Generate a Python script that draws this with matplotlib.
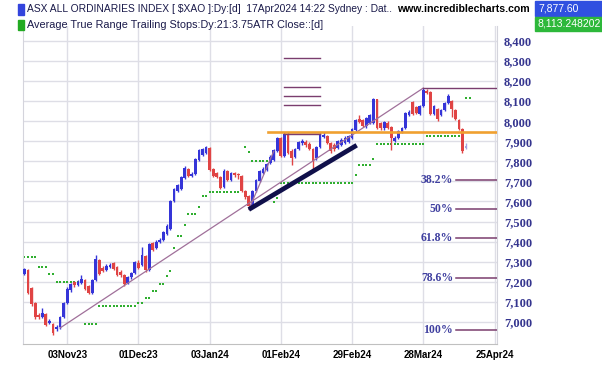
import matplotlib
matplotlib.use('Agg')
import matplotlib.pyplot as plt
from matplotlib import font_manager
from matplotlib.patches import Rectangle

installed = {f.name for f in font_manager.fontManager.ttflist}
narrow = 'Liberation Sans Narrow' if 'Liberation Sans Narrow' in installed else 'Liberation Sans'

# daily candles, one per trading day (index 0 = 18Oct23, last = 17Apr24)
opens = [7240, 7258, 7170, 7095, 7035, 7025, 7040, 6995, 6990, 6965,
         6975, 7025, 7095, 7160, 7200, 7185, 7195, 7210, 7180, 7145,
         7210, 7310, 7270, 7260, 7275, 7295, 7275, 7250, 7235, 7195,
         7225, 7245, 7295, 7285, 7330, 7260, 7395, 7370, 7400, 7410,
         7440, 7465, 7600, 7650, 7660, 7715, 7760, 7725, 7735, 7805,
         7830, 7840, 7865, 7760, 7740, 7720, 7670, 7750, 7705, 7740,
         7735, 7725, 7650, 7625, 7575, 7650, 7700, 7740, 7755, 7790,
         7805, 7850, 7915, 7825, 7935, 7850, 7820, 7860, 7890, 7895,
         7885, 7860, 7815, 7870, 7920, 7925, 7890, 7880, 7865, 7880,
         7890, 7895, 7915, 7955, 8010, 8005, 7975, 7990, 7990, 8110,
         7990, 7965, 7990, 7970, 7900, 7915, 7945, 7965, 8030, 8095,
         8070, 8035, 8075, 8152, 8147, 8035, 8060, 8030, 8055, 8090,
         8100, 8055, 8005, 7960, 7868]
highs = [7270, 7262, 7175, 7100, 7045, 7070, 7045, 7015, 6995, 6985,
         7030, 7100, 7175, 7195, 7205, 7210, 7235, 7215, 7185, 7215,
         7335, 7315, 7280, 7290, 7295, 7300, 7280, 7260, 7240, 7230,
         7250, 7305, 7310, 7375, 7335, 7395, 7400, 7410, 7420, 7455,
         7490, 7605, 7665, 7685, 7725, 7775, 7765, 7745, 7815, 7860,
         7865, 7875, 7870, 7765, 7745, 7725, 7760, 7755, 7745, 7745,
         7740, 7730, 7655, 7630, 7655, 7710, 7755, 7770, 7790, 7830,
         7860, 7920, 7920, 7945, 7945, 7860, 7865, 7900, 7910, 7905,
         7895, 7865, 7875, 7940, 7945, 7930, 7895, 7890, 7905, 7915,
         7925, 7930, 7965, 8010, 8030, 8010, 8020, 8035, 8115, 8110,
         7995, 8000, 8000, 7975, 7925, 7955, 7970, 8045, 8055, 8100,
         8075, 8080, 8165, 8160, 8150, 8080, 8065, 8060, 8095, 8135,
         8105, 8060, 8010, 7965, 7890]
lows = [7235, 7140, 7080, 7015, 7015, 7020, 6980, 6990, 6935, 6955,
        6965, 7020, 7090, 7150, 7175, 7180, 7190, 7160, 7140, 7140,
        7205, 7235, 7250, 7255, 7270, 7260, 7230, 7225, 7180, 7190,
        7215, 7240, 7265, 7280, 7250, 7255, 7355, 7365, 7395, 7405,
        7435, 7460, 7595, 7645, 7655, 7710, 7720, 7720, 7730, 7800,
        7825, 7835, 7750, 7720, 7715, 7660, 7665, 7700, 7700, 7720,
        7710, 7645, 7610, 7560, 7565, 7645, 7695, 7735, 7750, 7785,
        7800, 7845, 7820, 7820, 7835, 7780, 7815, 7855, 7880, 7870,
        7855, 7745, 7805, 7865, 7915, 7885, 7840, 7850, 7860, 7875,
        7885, 7890, 7910, 7950, 7990, 7970, 7965, 7985, 7985, 7960,
        7955, 7955, 7960, 7855, 7895, 7910, 7940, 7960, 8025, 8030,
        8035, 8030, 8070, 8135, 8030, 8030, 8000, 8025, 8050, 8085,
        8020, 8005, 7955, 7840, 7860]
closes = [7262, 7145, 7090, 7025, 7025, 7045, 6985, 7005, 6945, 6975,
          7025, 7095, 7165, 7190, 7185, 7200, 7215, 7165, 7145, 7210,
          7315, 7240, 7255, 7280, 7285, 7265, 7235, 7235, 7190, 7225,
          7245, 7300, 7270, 7335, 7260, 7390, 7360, 7400, 7410, 7450,
          7480, 7600, 7660, 7680, 7720, 7765, 7725, 7735, 7810, 7855,
          7860, 7870, 7755, 7725, 7720, 7665, 7750, 7705, 7740, 7730,
          7730, 7650, 7620, 7575, 7650, 7705, 7750, 7760, 7785, 7820,
          7855, 7915, 7825, 7935, 7840, 7815, 7860, 7895, 7900, 7880,
          7860, 7800, 7870, 7935, 7930, 7890, 7850, 7860, 7900, 7905,
          7915, 7925, 7960, 8005, 7995, 7975, 8015, 8030, 8110, 7965,
          7965, 7995, 7965, 7915, 7915, 7950, 7965, 8040, 8045, 8035,
          8040, 8075, 8155, 8140, 8035, 8075, 8010, 8055, 8090, 8125,
          8060, 8010, 7960, 7850, 7878]

# ATR trailing stop (21 day, 3.75 ATR); None = no dot that day
atr_stop = [7325, 7325, 7325, 7325, 7275, 7275, 7275, 7240, 7240, 7200,
            7200, 7200, 7200, 7200, 7200, 7200, None, 6990, 6990, 6990,
            6990, 7080, 7080, 7080, 7080, 7080, 7080, 7080, 7080, 7080,
            7080, 7080, 7092, 7092, 7120, 7120, 7155, 7155, 7190, 7190,
            7230, 7255, 7370, 7430, 7430, 7485, 7540, 7540, 7540, 7570,
            7625, 7625, 7645, 7645, 7645, 7645, 7645, 7645, 7645, 7645,
            7645, None, 7870, 7845, 7800, 7800, 7800, 7800, 7800, None,
            7595, 7616, 7690, 7690, 7690, 7690, 7690, 7690, 7690, 7690,
            7690, 7690, 7690, 7690, 7690, 7690, 7690, 7690, 7690, 7690,
            7690, 7690, 7690, 7730, 7780, 7780, 7780, 7780, 7810, 7885,
            7885, 7885, 7885, 7885, 7885, 7885, 7885, 7885, 7885, 7885,
            7885, 7885, 7885, 7925, 7925, 7925, 7925, 7925, 7925, 7925,
            7925, 7925, 7925, None, 8113, 8113]

tick_pos = [12, 32, 52, 72, 92, 112, 132]
tick_labels = ['03Nov23', '01Dec23', '03Jan24', '01Feb24', '29Feb24', '28Mar24', '25Apr24']
y_ticks = [7000, 7100, 7200, 7300, 7400, 7500, 7600, 7700, 7800, 7900, 8000, 8100, 8200, 8300, 8400]

# drawn lines (start index, start price, end index, end price)
trend_main = (10, 6970, 112, 8165)
trend_steep = (63, 7560, 70, 7850)
trend_thick = (63, 7560, 93.3, 7880)
swing_high = 8165
orange_level = 7948
short_levels = [8315, 8171, 8124, 8080, 7936]
fib_pcts = ['38.2%', '50%', '61.8%', '78.6%', '100%']
fib_levels = [7705, 7563, 7420, 7218, 6960]

fig = plt.figure(figsize=(6.02, 3.65), dpi=100)
ax = fig.add_axes([23 / 602, 21 / 365, 474 / 602, 318 / 365])
x_right = 132.7
ax.set_xlim(-0.42, x_right)
ax.set_ylim(6890, 8474)

ax.set_yticks(y_ticks)
ax.set_yticklabels([f'{v:,}' for v in y_ticks])
ax.yaxis.tick_right()
ax.tick_params(axis='y', length=0, pad=5, labelcolor='#35358f', labelsize=9)
for lab in ax.get_yticklabels():
    lab.set_family('Liberation Serif')
    lab.set_weight('bold')
ax.set_xticks(tick_pos)
ax.set_xticklabels(tick_labels)
ax.tick_params(axis='x', length=0, pad=4, labelsize=7)
for lab in ax.get_xticklabels():
    lab.set_family('Liberation Sans')
    lab.set_weight('bold')
ax.grid(color='#dedee6', lw=1.0)
ax.set_axisbelow(True)
for side in ['left', 'right']:
    ax.spines[side].set_color('#d4d4dc')
ax.spines['bottom'].set_color('#c0c0c0')
ax.spines['top'].set_visible(False)

# candles
idx = list(range(len(closes)))
colors = ['#3535d8' if c >= o else '#e04444' for o, c in zip(opens, closes)]
colors[-1] = '#a6a6e0'
ax.vlines(idx, lows, highs, colors=colors, lw=1.0, zorder=3)
bottoms = [min(o, c) for o, c in zip(opens, closes)]
heights = [max(abs(c - o), 5) for o, c in zip(opens, closes)]
ax.bar(idx, heights, bottom=bottoms, width=0.78, color=colors, lw=0, zorder=4)

# ATR stops
dots = [(i, v) for i, v in enumerate(atr_stop) if v is not None]
ax.plot([d[0] for d in dots], [d[1] for d in dots], 's', ms=1.8, color='#2fae2f', mew=0, zorder=2)

# trend lines
ax.plot(trend_main[::2], trend_main[1::2], color='#a0709a', lw=0.9, zorder=5)
ax.plot(trend_steep[::2], trend_steep[1::2], color='#a0709a', lw=0.9, zorder=5)
ax.plot(trend_thick[::2], trend_thick[1::2], color='#10104a', lw=3.4, solid_capstyle='butt', zorder=6)
ax.plot([112, x_right], [swing_high, swing_high], color='#7a3d6e', lw=1.0, zorder=5)
ax.plot([68.5, x_right], [orange_level, orange_level], color='#f0a030', lw=1.9, zorder=5)
for lv in short_levels:
    ax.plot([72.8, 83.0], [lv, lv], color='#7a3d6e', lw=1.0, zorder=5)
for pct, lv in zip(fib_pcts, fib_levels):
    ax.plot([121.2, x_right], [lv, lv], color='#7a3d6e', lw=1.1, zorder=5)
    ax.text(120.4, lv, pct, ha='right', va='center', fontsize=8.5, color='#4040a0',
            family='Liberation Serif', weight='bold')

# header
def fx(px):
    return px / 602

def fy(py):
    return 1 - py / 365

fig.add_artist(Rectangle((fx(18), fy(14.5)), 6 / 602, 10.5 / 365, transform=fig.transFigure, color='#3344dd'))
fig.add_artist(Rectangle((fx(18), fy(30)), 6 / 602, 10 / 365, transform=fig.transFigure, color='#22aa22'))
h1 = fig.text(fx(27), fy(9), 'ASX ALL ORDINARIES INDEX [ $XAO ]:Dy:[d]  17Apr2024 14:22 Sydney : Dat..',
              fontsize=8, family=narrow, color='#1a1a4a', va='center')
h2 = fig.text(fx(27), fy(25), 'Average True Range Trailing Stops:Dy:21:3.75ATR Close::[d]',
              fontsize=8, family=narrow, color='#1a1a4a', va='center')
h3 = fig.text(fx(397), fy(9), 'www.incrediblecharts.com', fontsize=7.5, family='Liberation Sans',
              weight='bold', color='black', va='center')
fig.add_artist(Rectangle((fx(535), fy(16)), 67 / 602, 15 / 365, transform=fig.transFigure, color='#3050e0'))
fig.add_artist(Rectangle((fx(535), fy(31)), 67 / 602, 14 / 365, transform=fig.transFigure, color='#2db83a'))
fig.text(fx(538), fy(8.5), '7,877.60', fontsize=7.5, family='Liberation Sans', color='white', va='center')
fig.text(fx(537), fy(24), '8,113.248202', fontsize=7.5, family='Liberation Sans', color='white', va='center')

# shrink header texts to the widths they take in the original
fig.canvas.draw()
renderer = fig.canvas.get_renderer()
for t, target in [(h1, 364), (h2, 295), (h3, 133)]:
    w = t.get_window_extent(renderer).width
    t.set_fontsize(t.get_fontsize() * target / w)

fig.savefig('out.png', dpi=100)
